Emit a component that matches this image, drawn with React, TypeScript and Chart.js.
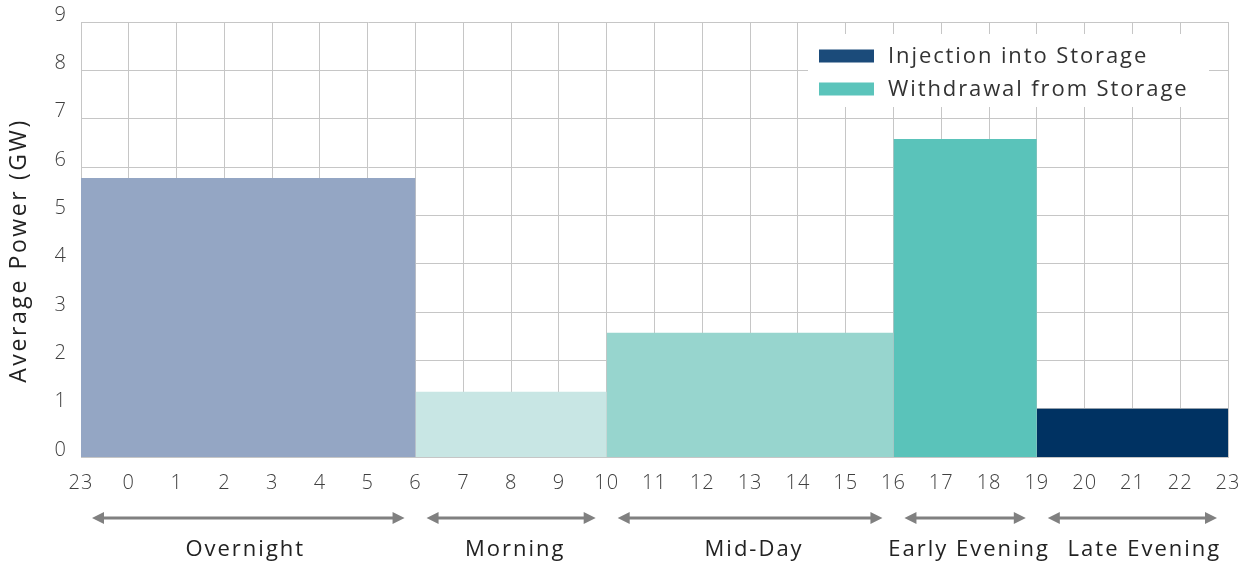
import React, { useEffect, useRef } from "react";
import { Chart, registerables } from "chart.js";

Chart.register(...registerables);

// Hour labels at each grid boundary (x positions 0..24)
const hourLabels = ["23","0","1","2","3","4","5","6","7","8","9","10","11","12","13","14","15","16","17","18","19","20","21","22","23"];
// Period names and boundaries (indices into hourLabels)
const periods = ["Overnight", "Morning", "Mid-Day", "Early Evening", "Late Evening"];
const periodStart = [0, 7, 11, 17, 20];
const periodEnd = [7, 11, 17, 20, 24];
// Average power per period (GW)
const avgPower = [5.77, 1.35, 2.57, 6.58, 1.0];
const periodColors = ["#94A6C4", "#C8E6E4", "#97D5CE", "#5AC3BA", "#003262"];
// Legend
const legendLabels = ["Injection into Storage", "Withdrawal from Storage"];
const legendColors = ["#1B4B7A", "#5BC4BB"];
const yTicks = [0, 1, 2, 3, 4, 5, 6, 7, 8, 9];
const yTitle = "Average Power (GW)";

const FONT = "'Open Sans', sans-serif";

const spacingPlugin = {
  id: "spacing",
  beforeUpdate(chart: any) { chart.ctx.letterSpacing = "1px"; },
  beforeLayout(chart: any) { chart.ctx.letterSpacing = "1px"; },
  beforeDraw(chart: any) { chart.ctx.letterSpacing = "1px"; },
};

const overlayPlugin = {
  id: "overlay",
  afterDraw(chart: any) {
    const ctx = chart.ctx;
    const xs = chart.scales.x;
    const area = chart.chartArea;
    ctx.save();
    // y title
    ctx.save();
    ctx.translate(19, (area.top + area.bottom) / 2 + 11);
    ctx.rotate(-Math.PI / 2);
    ctx.letterSpacing = "2.6px";
    ctx.fillStyle = "#222222";
    ctx.font = `23px ${FONT}`;
    ctx.textAlign = "center";
    ctx.textBaseline = "middle";
    ctx.fillText(yTitle, 0, 0);
    ctx.restore();
    // legend box
    const bx = 808, by = 34, bw = 401, bh = 73;
    ctx.fillStyle = "#ffffff";
    ctx.fillRect(bx, by, bw, bh);
    ctx.letterSpacing = "1.9px";
    legendLabels.forEach((lab, i) => {
      const cy = 56 + i * 33;
      ctx.fillStyle = legendColors[i];
      ctx.fillRect(819, cy - 6.5, 55, 13);
      ctx.fillStyle = "#333333";
      ctx.font = `22px ${FONT}`;
      ctx.textAlign = "left";
      ctx.textBaseline = "middle";
      ctx.fillText(lab, 888, cy + 1);
    });
    // period arrows and labels
    const ay = area.bottom + 61;
    const ly = area.bottom + 93;
    ctx.strokeStyle = "#808080";
    ctx.fillStyle = "#808080";
    ctx.lineWidth = 3;
    periods.forEach((p, i) => {
      const x1 = xs.getPixelForValue(periodStart[i]) + 11;
      const x2 = xs.getPixelForValue(periodEnd[i]) - 11;
      const head = 12;
      ctx.beginPath();
      ctx.moveTo(x1 + head - 1, ay);
      ctx.lineTo(x2 - head + 1, ay);
      ctx.stroke();
      ctx.beginPath();
      ctx.moveTo(x1, ay);
      ctx.lineTo(x1 + head, ay - 6);
      ctx.lineTo(x1 + head, ay + 6);
      ctx.closePath();
      ctx.fill();
      ctx.beginPath();
      ctx.moveTo(x2, ay);
      ctx.lineTo(x2 - head, ay - 6);
      ctx.lineTo(x2 - head, ay + 6);
      ctx.closePath();
      ctx.fill();
    });
    ctx.fillStyle = "#222222";
    ctx.font = `500 22px ${FONT}`;
    ctx.letterSpacing = "2px";
    ctx.textAlign = "center";
    ctx.textBaseline = "middle";
    periods.forEach((p, i) => {
      const cx = (xs.getPixelForValue(periodStart[i]) + xs.getPixelForValue(periodEnd[i])) / 2;
      const shift = i === 4 ? 12 : i === 0 ? -3 : 4;
      ctx.fillText(p, cx + shift, ly);
    });
    ctx.restore();
  },
};

export default function App() {
  const ref = useRef<HTMLCanvasElement>(null);
  useEffect(() => {
    if (!ref.current) return;
    const datasets = periods.map((p, i) => ({
      label: p,
      data: [
        { x: periodStart[i], y: avgPower[i] },
        { x: periodEnd[i], y: avgPower[i] },
      ],
      backgroundColor: periodColors[i],
      borderColor: periodColors[i],
      borderWidth: 0,
      pointRadius: 0,
      fill: "origin",
      tension: 0,
    }));
    const chart = new Chart(ref.current, {
      type: "line",
      data: { datasets },
      options: {
        responsive: false,
        animation: false,
        layout: { padding: { left: 0, right: 22, top: 22, bottom: 0 } },
        plugins: { legend: { display: false }, tooltip: { enabled: false } },
        scales: {
          x: {
            type: "linear",
            min: 0,
            max: 24,
            afterFit: (s: any) => {
              s.height = 110;
              s.paddingLeft = 0;
              s.paddingRight = 0;
            },
            afterBuildTicks: (s: any) => { s.ticks = hourLabels.map((_, i) => ({ value: i })); },
            ticks: {
              stepSize: 1,
              autoSkip: false,
              maxRotation: 0,
              padding: 14,
              color: "#404040",
              font: { family: FONT, size: 20, weight: 300 },
              callback: (v: any) => hourLabels[Number(v)] ?? "",
            },
            grid: { color: "#C6C6C6", lineWidth: 1, drawTicks: false },
            border: { color: "#C6C6C6" },
          },
          y: {
            type: "linear",
            min: 0,
            max: 9,
            afterFit: (s: any) => {
              s.width = 81;
              s.paddingTop = 0;
              s.paddingBottom = 0;
            },
            afterBuildTicks: (s: any) => { s.ticks = yTicks.map((v) => ({ value: v })); },
            ticks: {
              padding: 14,
              labelOffset: -7,
              color: "#404040",
              font: { family: FONT, size: 20, weight: 300 },
            },
            grid: { color: "#C6C6C6", lineWidth: 1, drawTicks: false },
            border: { color: "#C6C6C6" },
          },
        },
      },
      plugins: [spacingPlugin, overlayPlugin],
    });
    return () => chart.destroy();
  }, []);
  return (
    <div style={{ position: "absolute", left: 0, top: 0, width: 1250, height: 567, background: "#fff" }}>
      <canvas ref={ref} width={1250} height={567} style={{ display: "block" }} />
    </div>
  );
}
